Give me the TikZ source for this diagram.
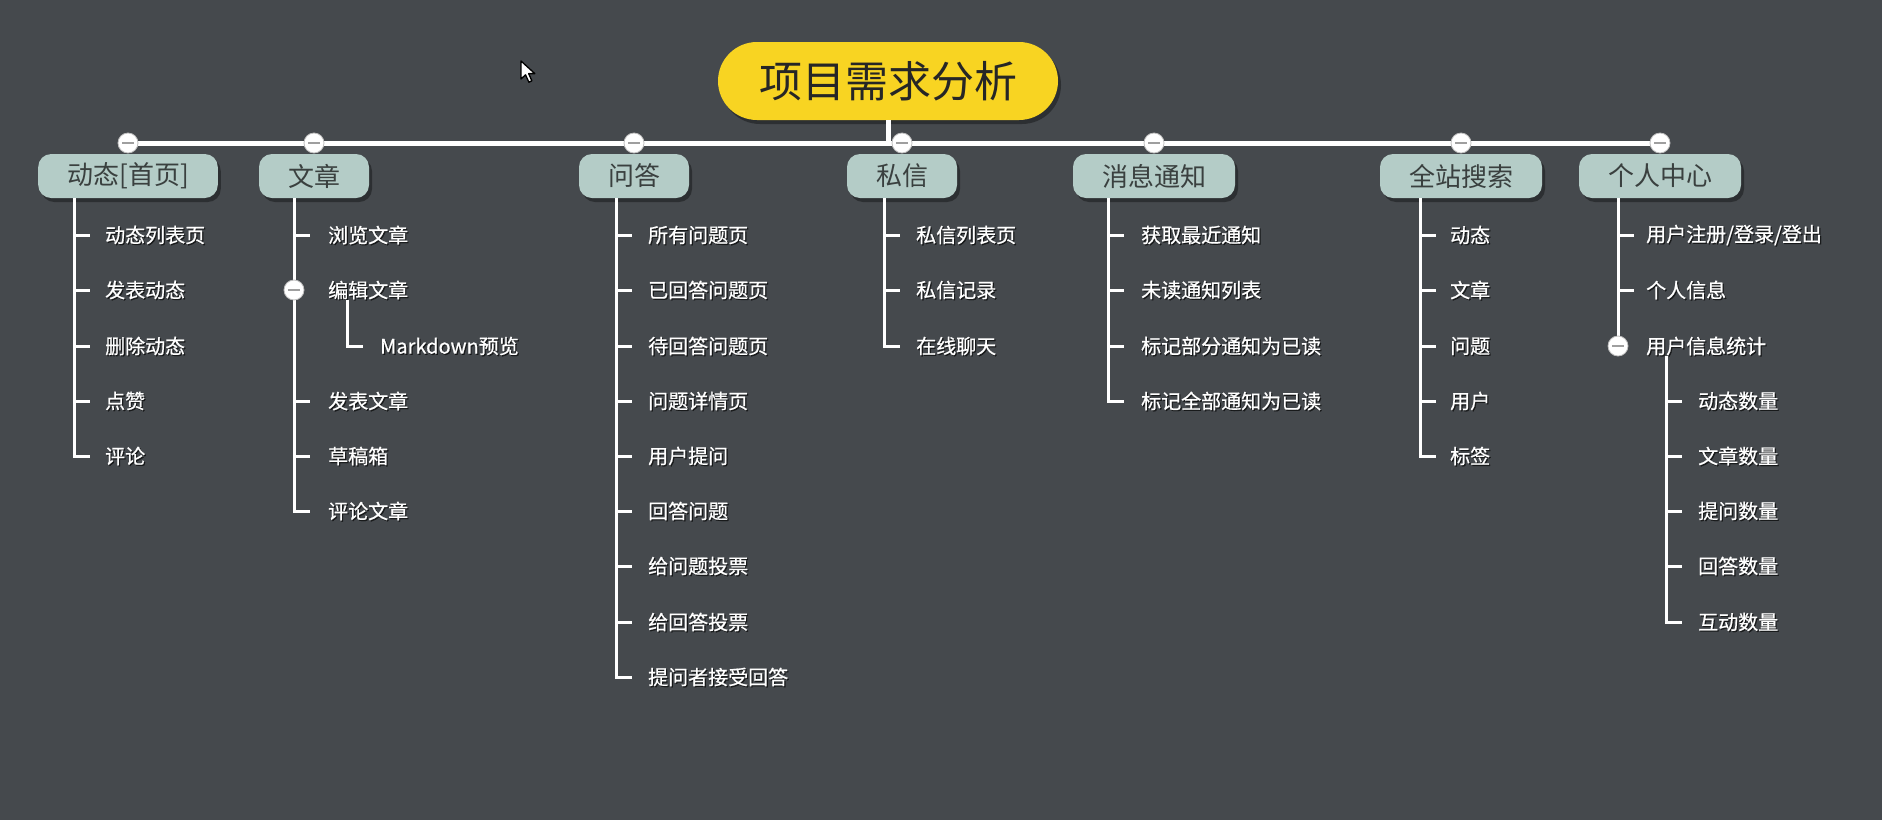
\documentclass[tikz,border=0pt]{standalone}
\usepackage{fontspec}
\setmainfont{Noto Sans CJK SC}
\newfontfamily\leaffont[FakeBold=0.7]{Noto Sans CJK SC}
\usetikzlibrary{shadows}
\definecolor{bg}{HTML}{45494D}
\definecolor{branchfill}{HTML}{B4CCC7}
\definecolor{branchtext}{HTML}{3A403F}
\definecolor{rootfill}{HTML}{F8D422}
\tikzset{
  rootbox/.style={rounded corners=39pt, fill=rootfill, minimum width=340pt, minimum height=78pt, inner sep=0pt,
     font=\fontsize{43}{48}\selectfont, text=black!85, drop shadow={shadow xshift=3pt, shadow yshift=-4pt, fill=black, opacity=0.35}},
  branchbox/.style={rounded corners=13pt, fill=branchfill, minimum height=44pt, inner xsep=29pt, inner ysep=0pt,
     font=\fontsize{26}{30}\selectfont, text=branchtext, drop shadow={shadow xshift=3pt, shadow yshift=-4pt, fill=black, opacity=0.35}},
  leaf/.style={anchor=west, inner sep=0pt, font=\leaffont\fontsize{20}{24}\selectfont, text=white},
  leafshadow/.style={anchor=west, inner sep=0pt, font=\leaffont\fontsize{20}{24}\selectfont, text=black, opacity=0.6},
  bar/.style={draw=white, line width=5pt},
  trunk/.style={draw=white, line width=3pt},
  collapse/.style={circle, fill=white, draw=gray!50, line width=0.8pt, minimum size=20pt, inner sep=0pt,
     path picture={\draw[gray!75, line width=2pt] ([xshift=-6pt]path picture bounding box.center) -- ([xshift=6pt]path picture bounding box.center);}}
}
\newcommand{\leafnode}[3]{%
  \node[leafshadow, xshift=1.2pt, yshift=-1.2pt] at (#2) {#3};
  \node[leaf] (#1) at (#2) {#3};
}
\newcommand{\tick}[2]{\draw[trunk] (#1 |- #2.west) -- ++(16,0);}
\begin{document}
\begin{tikzpicture}[x=1pt,y=-1pt]
\fill[bg] (0,0) rectangle (1882,820);
\useasboundingbox (0,0) rectangle (1882,820);

% mouse pointer
\draw[fill=white, draw=black, line width=1.3pt, line join=round]
  (521,61) -- ++(0,18) -- ++(4.5,-4.2) -- ++(3.4,7.4) -- ++(3,-1.4) -- ++(-3.3,-7.2) -- ++(6.2,0) -- cycle;

% root
\node[rootbox] (root) at (888,81) {项目需求分析};
\coordinate (barL) at (126,143);
\coordinate (barR) at (1660,143);
\draw[bar] (barL) -- (barR);
\draw[bar] (root.south) -- (root.south |- barL);

% branches
\node[branchbox] (b1) at (128,176) {动态[首页]};
\node[branchbox] (b2) at (314,176) {文章};
\node[branchbox] (b3) at (634,176) {问答};
\node[branchbox] (b4) at (902,176) {私信};
\node[branchbox] (b5) at (1154,176) {消息通知};
\node[branchbox] (b6) at (1461,176) {全站搜索};
\node[branchbox] (b7) at (1660,176) {个人中心};

% trunk coordinates
\coordinate (t1) at (74,0);
\coordinate (t2) at (294,0);
\coordinate (t2b) at (347,0);
\coordinate (t3) at (616,0);
\coordinate (t4) at (884,0);
\coordinate (t5) at (1108,0);
\coordinate (t6) at (1420,0);
\coordinate (t7) at (1618,0);
\coordinate (t8) at (1666,0);

\def\ra{235}\def\rb{290}\def\rc{346}\def\rd{401}\def\re{456}\def\rf{511}\def\rg{566}\def\rh{622}\def\ri{677}

% branch 1
\leafnode{c11}{105,\ra}{动态列表页}
\leafnode{c12}{105,\rb}{发表动态}
\leafnode{c13}{105,\rc}{删除动态}
\leafnode{c14}{105,\rd}{点赞}
\leafnode{c15}{105,\re}{评论}
% branch 2
\leafnode{c21}{328,\ra}{浏览文章}
\leafnode{c22}{328,\rb}{编辑文章}
\leafnode{c221}{380,\rc}{Markdown预览}
\leafnode{c23}{328,\rd}{发表文章}
\leafnode{c24}{328,\re}{草稿箱}
\leafnode{c25}{328,\rf}{评论文章}
% branch 3
\leafnode{c31}{648,\ra}{所有问题页}
\leafnode{c32}{648,\rb}{已回答问题页}
\leafnode{c33}{648,\rc}{待回答问题页}
\leafnode{c34}{648,\rd}{问题详情页}
\leafnode{c35}{648,\re}{用户提问}
\leafnode{c36}{648,\rf}{回答问题}
\leafnode{c37}{648,\rg}{给问题投票}
\leafnode{c38}{648,\rh}{给回答投票}
\leafnode{c39}{648,\ri}{提问者接受回答}
% branch 4
\leafnode{c41}{916,\ra}{私信列表页}
\leafnode{c42}{916,\rb}{私信记录}
\leafnode{c43}{916,\rc}{在线聊天}
% branch 5
\leafnode{c51}{1141,\ra}{获取最近通知}
\leafnode{c52}{1141,\rb}{未读通知列表}
\leafnode{c53}{1141,\rc}{标记部分通知为已读}
\leafnode{c54}{1141,\rd}{标记全部通知为已读}
% branch 6
\leafnode{c61}{1450,\ra}{动态}
\leafnode{c62}{1450,\rb}{文章}
\leafnode{c63}{1450,\rc}{问题}
\leafnode{c64}{1450,\rd}{用户}
\leafnode{c65}{1450,\re}{标签}
% branch 7
\leafnode{c71}{1646,\ra}{用户注册/登录/登出}
\leafnode{c72}{1646,\rb}{个人信息}
\leafnode{c73}{1646,\rc}{用户信息统计}
\leafnode{c731}{1698,\rd}{动态数量}
\leafnode{c732}{1698,\re}{文章数量}
\leafnode{c733}{1698,\rf}{提问数量}
\leafnode{c734}{1698,\rg}{回答数量}
\leafnode{c735}{1698,\rh}{互动数量}

% trunks with ticks
\draw[trunk] (t1 |- b1.south) -- (t1 |- c15.west) -- ++(16,0);
\foreach \c in {c11,c12,c13,c14} {\tick{t1}{\c}}
\draw[trunk] (t2 |- b2.south) -- (t2 |- c25.west) -- ++(16,0);
\foreach \c in {c21,c23,c24} {\tick{t2}{\c}}
\draw[trunk] (t2b |- c22.south) -- ++(0,6) -- (t2b |- c221.west) -- ++(16,0);
\draw[trunk] (t3 |- b3.south) -- (t3 |- c39.west) -- ++(16,0);
\foreach \c in {c31,c32,c33,c34,c35,c36,c37,c38} {\tick{t3}{\c}}
\draw[trunk] (t4 |- b4.south) -- (t4 |- c43.west) -- ++(16,0);
\foreach \c in {c41,c42} {\tick{t4}{\c}}
\draw[trunk] (t5 |- b5.south) -- (t5 |- c54.west) -- ++(16,0);
\foreach \c in {c51,c52,c53} {\tick{t5}{\c}}
\draw[trunk] (t6 |- b6.south) -- (t6 |- c65.west) -- ++(16,0);
\foreach \c in {c61,c62,c63,c64} {\tick{t6}{\c}}
\draw[trunk] (t7 |- b7.south) -- (t7 |- c73.west);
\foreach \c in {c71,c72} {\tick{t7}{\c}}
\draw[trunk] (t8 |- c73.south) -- ++(0,8) -- (t8 |- c735.west) -- ++(16,0);
\foreach \c in {c731,c732,c733,c734} {\tick{t8}{\c}}

% collapse markers
\node[collapse] (k1) at (b1 |- barL) {};
\node[collapse] (k2) at (b2 |- barL) {};
\node[collapse] (k3) at (b3 |- barL) {};
\node[collapse] (k4) at (b4 |- barL) {};
\node[collapse] (k5) at (b5 |- barL) {};
\node[collapse] (k6) at (b6 |- barL) {};
\node[collapse] (k7) at (b7 |- barL) {};
\node[collapse] (k8) at (t2 |- c22.west) {};
\node[collapse] (k9) at (t7 |- c73.west) {};
\end{tikzpicture}
\end{document}
